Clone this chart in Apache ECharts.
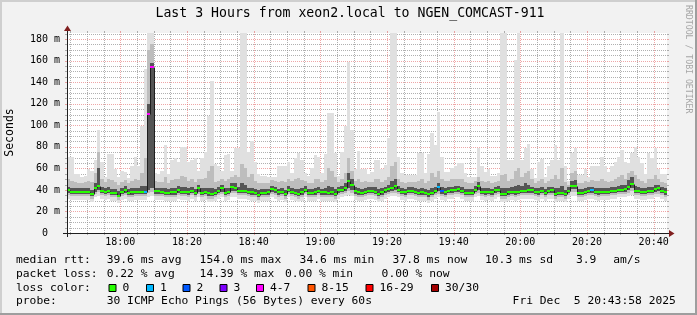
<!DOCTYPE html>
<html><head><meta charset="utf-8">
<script src="https://cdn.jsdelivr.net/npm/echarts@6/dist/echarts.min.js"></script>
<style>html,body{margin:0;padding:0;background:#f2f2f2;}#c{width:697px;height:315px;}</style>
</head><body><div id="c"></div>
<script>
// ---------- data ----------
const startMinute = 1064;   // 17:44
const endMinute = 1244;     // 20:44
const yMax = 185.66;
const xTickValues = [1080,1100,1120,1140,1160,1180,1200,1220,1240];
const xTickLabels = ['18:00','18:20','18:40','19:00','19:20','19:40','20:00','20:20','20:40'];
const yTickValues = [0,20,40,60,80,100,120,140,160,180];
const yTickLabels = ['0  ','20 m','40 m','60 m','80 m','100 m','120 m','140 m','160 m','180 m'];

const median = [
39.6,38.2,38.4,38.4,38.4,38.4,38.0,36.0,41.4,44.0,
39.0,38.4,39.0,37.4,37.4,34.6,38.0,39.8,37.4,37.7,
38.0,38.0,38.4,38.4,110.5,154.5,38.7,38.7,38.0,37.4,
37.0,37.7,37.7,39.6,38.4,38.4,37.7,39.0,37.0,41.8,
37.4,38.2,36.8,35.8,37.2,39.2,41.6,37.2,38.4,42.6,
42.0,39.0,39.0,39.0,38.4,37.8,37.2,35.6,37.2,37.2,
37.7,40.8,39.6,37.7,38.4,36.5,40.2,38.4,37.1,36.5,
37.7,40.2,37.1,37.1,37.7,39.0,37.7,37.7,37.1,37.7,
36.5,39.6,40.2,41.8,48.0,44.5,38.7,37.7,37.1,38.4,
39.0,39.0,38.4,36.5,37.7,39.6,40.8,42.0,43.3,40.2,
38.4,37.7,39.3,39.0,38.4,37.1,37.7,37.1,35.9,37.1,
39.0,42.3,38.6,37.7,39.0,39.6,40.2,40.8,39.0,37.1,
37.1,37.1,40.2,43.3,38.4,37.7,38.4,37.7,39.6,40.2,
36.5,36.5,37.7,38.4,37.7,38.4,39.0,39.0,39.6,39.6,
38.4,37.7,39.0,37.1,39.0,39.6,36.5,37.1,37.1,35.9,
39.0,44.0,44.0,37.1,37.1,38.4,39.0,39.6,38.4,37.7,
38.4,38.4,38.4,39.0,39.0,40.2,40.2,40.8,42.7,45.8,
39.0,39.0,38.4,38.4,39.0,39.0,40.8,41.4,39.0,37.8];

const lostPings = [
0,0,0,0,0,0,0,0,0,0, 0,0,0,0,0,0,0,0,0,0,
0,0,0,1,4,4,0,0,0,0, 0,0,0,0,0,0,0,0,0,0,
0,0,0,0,0,0,0,0,0,0, 0,0,0,0,0,0,0,0,0,0,
0,0,0,0,0,0,0,0,0,0, 0,0,0,0,0,0,0,0,0,0,
0,0,0,0,0,0,0,0,0,0, 0,0,0,0,0,0,0,0,0,0,
0,0,0,0,0,0,0,0,0,0, 0,1,2,0,0,0,0,0,0,0,
0,0,0,0,0,0,0,0,0,0, 0,0,0,0,0,0,0,0,0,0,
0,0,0,0,0,0,0,0,0,0, 0,0,0,0,0,0,0,1,0,0,
0,0,0,0,0,0,0,0,0,0, 0,0,0,0,0,0,0,0,0,0];

const pingMax = [
71,71,55,55,52,53,59,58,68,96, 66,52,73,73,59,52,58,57,51,62,
71,62,99,152,186,186,56,55,58,82, 55,68,70,66,80,80,66,68,70,58,
70,75,109,141,64,62,58,72,73,58, 79,79,186,186,75,85,66,55,53,53,
52,52,52,62,62,62,66,56,70,74, 68,56,53,60,72,71,56,73,111,111,
74,53,75,99,159,96,59,76,59,59, 55,57,68,68,59,63,88,186,186,71,
56,54,54,54,54,74,74,56,73,93, 82,112,71,57,57,60,62,65,65,56,
52,52,52,79,62,57,59,53,53,56, 186,186,68,68,161,186,68,79,83,59,
51,66,69,52,62,68,82,68,186,62, 48,74,79,54,54,59,52,62,62,62,
71,62,57,62,66,71,77,66,65,74, 80,71,65,55,74,70,79,59,55,55];

const pingP90 = [
50,48,47,46,46,47,48,47,56,75, 50,47,50,49,47,45,47,49,46,48,
50,49,56,70,170,175,48,47,47,52, 46,49,50,50,53,52,48,50,47,50,
50,51,58,62,47,48,50,48,50,52, 54,52,64,60,52,55,48,46,46,46,
46,49,48,47,48,47,50,48,50,51, 49,48,46,46,50,50,47,49,60,58,
52,47,50,56,70,58,48,50,47,48, 47,47,50,50,47,49,52,62,66,50,
47,46,47,47,47,48,50,46,48,56, 52,58,50,48,48,50,50,50,50,47,
46,46,48,52,48,47,48,46,47,48, 54,55,48,50,58,60,52,56,58,50,
46,48,50,46,48,50,54,50,60,47, 45,56,58,46,46,48,47,49,48,48,
50,48,47,48,50,52,54,50,56,58, 54,50,48,46,50,50,54,50,47,46];

const pingP75 = [
43,42,42,42,42,42,42,40,46,60, 43,42,43,41,41,39,42,44,41,42,
42,42,44,44,120,158,42,42,42,42, 41,42,42,44,43,43,42,43,41,45,
42,42,42,42,41,43,45,42,42,46, 46,43,46,45,42,42,41,40,41,41,
41,44,43,41,42,40,44,42,41,41, 42,44,41,41,42,43,41,42,44,43,
41,43,44,46,56,50,43,42,41,42, 43,43,43,41,42,43,45,48,50,44,
42,41,43,43,42,41,42,41,40,42, 43,46,43,42,43,43,44,44,43,41,
41,41,44,47,42,42,42,41,43,44, 42,42,42,43,44,45,44,46,45,43,
42,42,43,41,43,43,42,42,44,40, 43,48,49,41,41,42,43,43,42,42,
42,42,42,43,43,44,45,45,49,52, 44,43,42,42,43,43,45,45,43,42];

const pingP25 = [
37,36,36,36,36,36,36,34,38,40, 37,36,37,35,35,33,36,37,35,35,
36,36,36,36,40,42,36,36,36,35, 35,35,35,37,36,36,35,37,35,38,
35,36,34,34,35,37,38,35,36,39, 39,37,37,37,36,35,35,33,35,35,
35,38,37,35,36,34,38,36,35,34, 35,38,35,35,35,37,35,35,35,35,
34,37,38,39,42,40,36,35,35,36, 37,37,36,34,35,37,38,39,40,38,
36,35,37,37,36,35,35,35,33,35, 37,39,36,35,37,37,38,38,37,35,
35,35,38,40,36,35,36,35,37,38, 34,34,35,36,35,36,37,37,37,37,
36,35,37,35,37,37,34,35,35,34, 37,41,41,35,35,36,37,37,36,35,
36,36,36,37,37,38,38,38,40,42, 37,37,36,36,37,37,38,39,37,35];

const pingP10 = [
35,34,34,34,34,34,34,32,36,38, 35,34,35,33,33,31,34,35,33,33,
34,34,34,34,37,38,34,34,34,33, 33,33,33,35,34,34,33,35,33,36,
33,34,32,32,33,35,36,33,34,37, 37,35,35,35,34,33,33,31,33,33,
33,36,35,33,34,32,36,34,33,32, 33,36,33,33,33,35,33,33,33,33,
32,35,36,37,39,37,34,33,33,34, 35,35,34,32,33,35,36,37,37,36,
34,33,35,35,34,33,33,33,31,33, 35,36,34,33,35,35,36,36,35,33,
33,33,36,37,34,33,34,33,35,36, 32,32,33,34,33,34,35,35,35,35,
34,33,35,33,35,35,32,33,33,32, 35,38,38,33,33,34,35,35,34,33,
34,34,34,35,35,36,36,36,37,39, 35,35,34,34,35,35,36,36,35,33];

const pingMin = [
32,31,31,31,31,31,31,29,33,34, 32,31,32,30,30,28,31,32,30,30,
31,31,31,31,33,34,31,31,31,30, 30,30,30,32,31,31,30,32,30,33,
30,31,29,29,30,32,33,30,31,33, 33,32,32,32,31,30,30,28,30,30,
30,33,32,30,31,29,33,31,30,29, 30,33,30,30,30,32,30,30,30,30,
29,32,33,34,35,34,31,30,30,31, 32,32,31,29,30,32,33,34,34,33,
31,30,32,32,31,30,30,30,28,30, 32,33,31,30,32,32,33,33,32,30,
30,30,33,34,31,30,31,30,32,33, 29,29,30,31,30,31,32,32,32,32,
31,30,32,30,32,32,29,30,30,29, 32,34,34,30,30,31,32,32,31,30,
31,31,31,32,32,33,33,33,34,35, 32,32,31,31,32,32,33,33,32,30];

const lossLabels = ['0','1','2','3','4-7','8-15','16-29','30/30'];
const lossColors = ['#26ff00','#00b8ff','#0059ff','#7e00ff','#ff00ff','#ff5500','#ff0000','#a10000'];

const statsLines = [
  [['median rtt:',16],['39.6 ms avg',106.7],['154.0 ms max',199.6],['34.6 ms min',299.6],['37.8 ms now',392.6],['10.3 ms sd',485],['3.9',576],['am/s',613.3]],
  [['packet loss:',16],['0.22 % avg',106.7],['14.39 % max',199.6],['0.00 % min',285],['0.00 % now',381.6]],
  [['loss color:',16]],
  [['probe:',16],['30 ICMP Echo Pings (56 Bytes) every 60s',106.7],['Fri Dec  5 20:43:58 2025',512.6]]
];
const titleText = 'Last 3 Hours from xeon2.local to NGEN_COMCAST-911';

// ---------- helpers ----------
function lossClass(n){ if(n<=0)return 0; if(n<=3)return n; if(n<=7)return 4; if(n<=15)return 5; if(n<30)return 6; return 7; }
const MONO = '"DejaVu Sans Mono"';
const X0 = 67, Y0 = 233, X1 = 667, Y1 = 33;

const vLines = [], hLines = [];
for (let m = 1065; m <= 1240; m += 5) vLines.push([m, 0, xTickValues.indexOf(m) >= 0 ? 1 : 0]);
for (let v = 5; v <= 185; v += 5) hLines.push([startMinute, v, yTickValues.indexOf(v) >= 0 ? 1 : 0]);

const MINOR = 'rgba(143,143,143,0.7)', MAJOR = 'rgba(222,79,79,0.5)';
function gridItem(kind){
  return function(params, api){
    const major = api.value(2);
    const color = major ? MAJOR : MINOR;
    const children = [];
    if (kind === 'v') {
      const x = Math.round(api.coord([api.value(0), 0])[0]) + 0.5;
      children.push({type:'line', shape:{x1:x,y1:Y0,x2:x,y2:Y0+2}, style:{stroke:color,lineWidth:1}});
      children.push({type:'line', shape:{x1:x,y1:Y1-2,x2:x,y2:Y1}, style:{stroke:color,lineWidth:1}});
      children.push({type:'line', shape:{x1:x,y1:Y0,x2:x,y2:Y1}, style:{stroke:color,lineWidth:1,lineDash:[1,1]}});
    } else {
      const y = Math.round(api.coord([startMinute, api.value(1)])[1]) + 0.5;
      children.push({type:'line', shape:{x1:X0-2,y1:y,x2:X0,y2:y}, style:{stroke:color,lineWidth:1}});
      children.push({type:'line', shape:{x1:X1,y1:y,x2:X1+2,y2:y}, style:{stroke:color,lineWidth:1}});
      children.push({type:'line', shape:{x1:X0,y1:y,x2:X1,y2:y}, style:{stroke:color,lineWidth:1,lineDash:[1,1]}});
    }
    return {type:'group', children};
  };
}

const smokeData = median.map((m,i)=>[startMinute+i, pingMin[i], pingP10[i], pingP25[i], pingP75[i], pingP90[i], pingMax[i]]);
const SMOKE = ['#e0e0e0','#bdbdbd','#555555'];
function renderSmoke(params, api){
  const t = api.value(0);
  const xa = Math.round(api.coord([t,0])[0]);
  const xb = Math.round(api.coord([t+1,0])[0]);
  const band = (lo, hi, color) => {
    const ya = Math.max(Y1, Math.round(api.coord([t,hi])[1]));
    const yb = Math.round(api.coord([t,lo])[1]);
    return {type:'rect', shape:{x:xa,y:ya,width:xb-xa,height:Math.max(0,yb-ya)}, style:{fill:color}};
  };
  return {type:'group', children:[
    band(api.value(1), api.value(6), SMOKE[0]),
    band(api.value(2), api.value(5), SMOKE[1]),
    band(api.value(3), api.value(4), SMOKE[2])
  ]};
}

const medData = median.map((m,i)=>[startMinute+i, m, lostPings[i], i>0?median[i-1]:m]);
function renderMedian(params, api){
  const t = api.value(0);
  const xa = Math.round(api.coord([t,0])[0]);
  const xb = Math.round(api.coord([t+1,0])[0]);
  const yc = Math.round(api.coord([t,api.value(1)])[1]);
  const yp = Math.round(api.coord([t,api.value(3)])[1]);
  const col = lossColors[lossClass(api.value(2))];
  return {type:'group', children:[
    {type:'line', shape:{x1:xa+0.5,y1:yp+0.5,x2:xa+0.5,y2:yc+0.5}, style:{stroke:'#1f1f1f',lineWidth:1}},
    {type:'line', shape:{x1:xa,y1:yc+0.5,x2:xb,y2:yc+0.5}, style:{stroke:'#1f1f1f',lineWidth:1}},
    {type:'rect', shape:{x:xa,y:yc-1,width:xb-xa,height:2}, style:{fill:col}}
  ]};
}

// ---------- graphics (frame, texts, legend) ----------
const graphics = [
  {type:'rect', shape:{x:0,y:0,width:697,height:2}, style:{fill:'#cfcfcf'}, z:100},
  {type:'rect', shape:{x:0,y:0,width:2,height:315}, style:{fill:'#cfcfcf'}, z:100},
  {type:'rect', shape:{x:0,y:313,width:697,height:2}, style:{fill:'#9e9e9e'}, z:101},
  {type:'rect', shape:{x:695,y:0,width:2,height:315}, style:{fill:'#9e9e9e'}, z:101},
  // axes
  {type:'line', shape:{x1:X0-4,y1:Y0+0.5,x2:X1+4,y2:Y0+0.5}, style:{stroke:'#1f1f1f',lineWidth:1}, z:50},
  {type:'line', shape:{x1:X0+0.5,y1:Y0+4,x2:X0+0.5,y2:Y1-4}, style:{stroke:'#1f1f1f',lineWidth:1}, z:50},
  {type:'polygon', shape:{points:[[X1+2,Y0-3],[X1+2,Y0+4],[X1+7.5,Y0+0.5]]}, style:{fill:'#801f1f'}, z:51},
  {type:'polygon', shape:{points:[[X0-3,Y1-2],[X0+4,Y1-2],[X0+0.5,Y1-7.5]]}, style:{fill:'#801f1f'}, z:51},
  // title
  {type:'text', x:350, y:13.5, style:{text:titleText, font:'13.2px '+MONO, fill:'#000', align:'center', verticalAlign:'middle', textAlign:'center', textVerticalAlign:'middle'}, z:60},
  // y axis name
  {type:'text', x:10.5, y:132.5, rotation:Math.PI/2, style:{text:'Seconds', font:'11.5px '+MONO, fill:'#000', align:'center', verticalAlign:'middle', textAlign:'center', textVerticalAlign:'middle'}, z:60},
  // watermark
  {type:'text', x:688.5, y:5, rotation:-Math.PI/2, style:{text:'RRDTOOL / TOBI OETIKER', font:'8.2px '+MONO, fill:'#a6a6a6', align:'left', verticalAlign:'middle', textAlign:'left', textVerticalAlign:'middle'}, z:60}
];
const lineY = [259.7, 273.7, 287.7, 301];
const LEG_FONT = '11.3px ' + MONO;
statsLines.forEach((items, li) => items.forEach(([txt, x]) => graphics.push(
  {type:'text', x:x, y:lineY[li], style:{text:txt, font:LEG_FONT, fill:'#000', align:'left', verticalAlign:'middle', textAlign:'left', textVerticalAlign:'middle'}, z:60})));
const boxX = [108.5,146,182.5,219.5,256,307.5,365.5,431];
lossLabels.forEach((lab, k) => {
  graphics.push({type:'rect', shape:{x:boxX[k]+0.5,y:284.5,width:7,height:7}, style:{fill:lossColors[k], stroke:'#000', lineWidth:1}, z:60});
  graphics.push({type:'text', x:boxX[k]+14, y:lineY[2], style:{text:lab, font:LEG_FONT, fill:'#000', align:'left', verticalAlign:'middle', textAlign:'left', textVerticalAlign:'middle'}, z:60});
});

// ---------- chart ----------
const chart = echarts.init(document.getElementById('c'), null, {renderer:'canvas'});
chart.setOption({
  backgroundColor:'#f2f2f2',
  animation:false,
  grid:{left:X0, top:Y1, width:X1-X0, height:Y0-Y1, show:true, backgroundColor:'#ffffff', borderWidth:0},
  xAxis:{type:'value', min:startMinute, max:endMinute,
    axisLine:{show:false}, axisTick:{show:false}, splitLine:{show:false},
    axisLabel:{customValues:xTickValues, formatter:(v)=>{const k=xTickValues.indexOf(Math.round(v)); return k>=0?xTickLabels[k]:'';},
      margin:4.5, fontFamily:'DejaVu Sans Mono', fontSize:10, color:'#000'}},
  yAxis:{type:'value', min:0, max:yMax,
    axisLine:{show:false}, axisTick:{show:false}, splitLine:{show:false},
    axisLabel:{customValues:yTickValues, formatter:(v)=>{const k=yTickValues.indexOf(Math.round(v)); return k>=0?yTickLabels[k]:'';},
      margin:7, fontFamily:'DejaVu Sans Mono', fontSize:10, color:'#000'}},
  series:[
    {type:'custom', name:'vgrid', data:vLines, renderItem:gridItem('v'), clip:false, z:1, silent:true},
    {type:'custom', name:'hgrid', data:hLines, renderItem:gridItem('h'), clip:false, z:1, silent:true},
    {type:'custom', name:'smoke', data:smokeData, renderItem:renderSmoke, clip:true, z:2, silent:true,
      encode:{x:0, y:[1,6]}},
    {type:'custom', name:'median', data:medData, renderItem:renderMedian, clip:true, z:3, silent:true,
      encode:{x:0, y:1}}
  ],
  graphic:graphics
});
</script>
</body></html>
